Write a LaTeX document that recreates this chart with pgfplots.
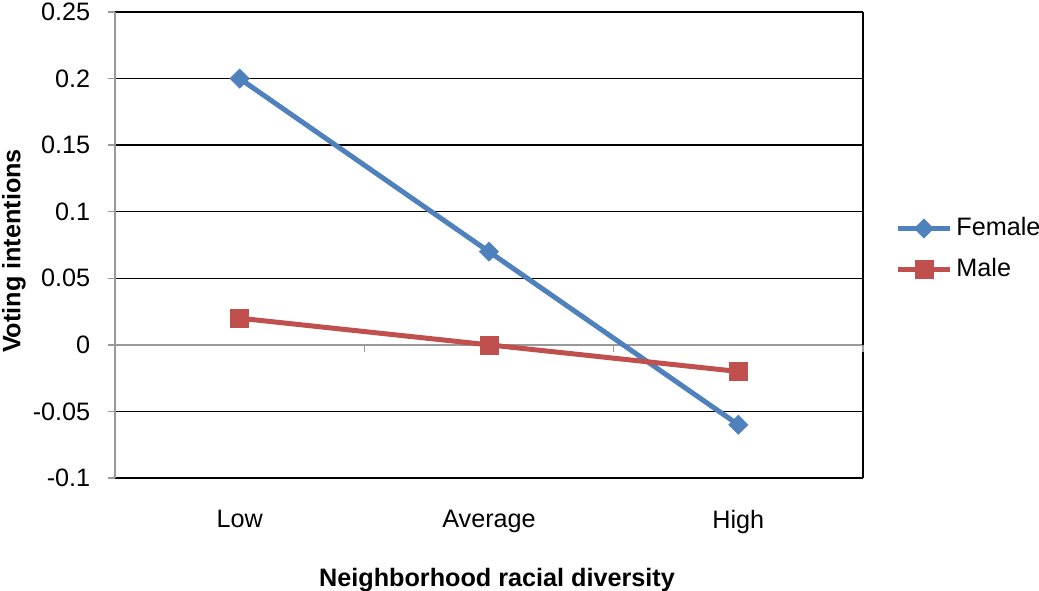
\documentclass[border=0pt]{standalone}
\usepackage{pgfplots}
\pgfplotsset{compat=1.18}
\usepackage{fontspec}
\setmainfont{Liberation Sans}
\definecolor{fblue}{HTML}{4F81BD}
\definecolor{mred}{HTML}{C0504D}
\begin{document}
\fontsize{12.6}{15}\selectfont
\begin{tikzpicture}
\useasboundingbox (-57.5pt,-56pt) rectangle (462pt,239pt);
\begin{axis}[
  at={(0,0)}, anchor=south west,
  scale only axis, width=374pt, height=233pt,
  xmin=-0.5, xmax=2.5, ymin=-0.1, ymax=0.25,
  axis line style={draw=none},
  xtick={0,1,2},
  xticklabels={Low,Average,High},
  x tick style={draw=none},
  xticklabel style={yshift=-8pt},
  ytick={-0.1,-0.05,0.05,0.1,0.15,0.2,0.25},
  ytick pos=left,
  extra y ticks={0},
  extra y tick style={grid style={gray!80,line width=0.75pt}, ytick pos=left},
  y tick style={gray!80, line width=0.75pt},
  tick align=outside,
  major tick length=3.5pt,
  ymajorgrids,
  grid style={black, line width=0.75pt},
  yticklabel style={/pgf/number format/fixed, /pgf/number format/precision=2, xshift=-4.5pt},
  /pgf/number format/assume math mode=true,
  ticklabel style={font=\fontsize{12.6}{15}\selectfont},
  xlabel={\bfseries Neighborhood racial diversity},
  ylabel={\bfseries Voting intentions},
  xlabel style={at={(axis description cs:0.5,0)}, anchor=center, yshift=-51pt, xshift=4pt},
  ylabel style={at={(axis description cs:0,0.5)}, anchor=center, rotate=0, yshift=50.5pt, xshift=-3pt},
  label style={font=\fontsize{12.6}{15}\selectfont},
  legend style={at={(1,0.5)}, anchor=west, xshift=16pt, yshift=-2pt, draw=none, fill=none,
    font=\fontsize{12.6}{15}\selectfont, row sep=5.5pt, inner sep=0pt,
    nodes={inner xsep=2pt}},
  legend cell align=left,
  legend image code/.code={
    \draw[#1, mark repeat=2, mark phase=2] plot coordinates {(0pt,0pt) (13pt,0pt) (26pt,0pt)};
  },
  clip=false,
]
\draw[gray!80, line width=0.75pt] (axis cs:-0.5,-0.1) -- (axis cs:-0.5,0.25);
\draw[black, line width=0.75pt] (axis cs:2.5,-0.1) -- (axis cs:2.5,0.25);
\draw[gray!80, line width=0.75pt] (axis cs:-0.5,0) -- ++(0pt,-3.5pt);
\draw[gray!80, line width=0.75pt] (axis cs:0.5,0) -- ++(0pt,-3.5pt);
\draw[gray!80, line width=0.75pt] (axis cs:1.5,0) -- ++(0pt,-3.5pt);
\draw[gray!80, line width=0.75pt] (axis cs:2.5,0) -- ++(0pt,-3.5pt);
\addplot[fblue, line width=2.5pt, mark=square*, mark size=3.4pt,
  mark options={rotate=45, line width=0.3pt, fill=fblue}]
  coordinates {(0,0.2) (1,0.07) (2,-0.06)};
\addlegendentry{Female}
\addplot[mred, line width=2.5pt, mark=square*, mark size=4.5pt,
  mark options={line width=0.3pt, fill=mred}]
  coordinates {(0,0.02) (1,0.0) (2,-0.02)};
\addlegendentry{Male}
\end{axis}
\end{tikzpicture}
\end{document}
